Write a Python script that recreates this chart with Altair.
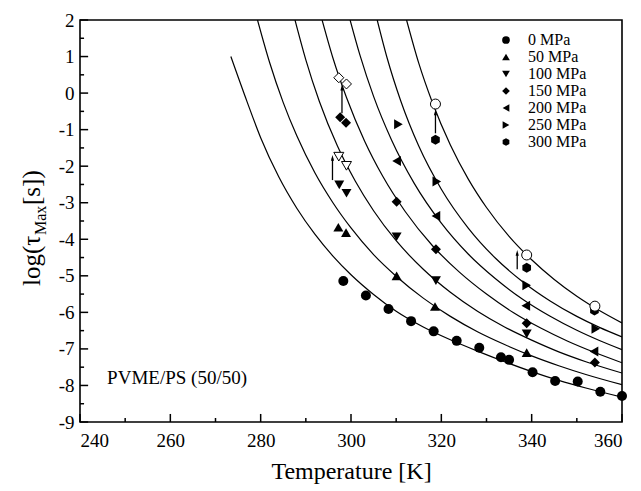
import altair as alt
import pandas as pd

SERIF = "Liberation Serif"

series = ["0 MPa", "50 MPa", "100 MPa", "150 MPa", "200 MPa", "250 MPa", "300 MPa"]
HEX = "M0,-1L0.866,-0.5L0.866,0.5L0,1L-0.866,0.5L-0.866,-0.5Z"
shapes = ["circle", "triangle-up", "triangle-down", "diamond", "triangle-left", "triangle-right", HEX]

# filled data points (T [K], log tau)
p0_T = [298.3, 303.3, 308.3, 313.3, 318.3, 323.4, 328.4, 333.2, 335.0, 340.2, 345.2, 350.2, 355.2, 360.0]
p0_L = [-5.14, -5.54, -5.91, -6.24, -6.52, -6.78, -6.97, -7.23, -7.30, -7.64, -7.88, -7.89, -8.17, -8.29]
p50_T = [297.2, 298.9, 310.1, 318.6, 338.9]
p50_L = [-3.67, -3.82, -5.00, -5.84, -7.10]
p100_T = [297.4, 299.0, 310.1, 318.8, 338.9]
p100_L = [-2.51, -2.74, -3.93, -5.13, -6.59]
p150_T = [297.6, 298.9, 310.1, 318.8, 338.9, 354.0]
p150_L = [-0.66, -0.81, -2.97, -4.27, -6.30, -7.37]
p200_T = [310.1, 318.8, 338.7, 353.8]
p200_L = [-1.86, -3.36, -5.82, -7.07]
p250_T = [310.5, 319.0, 338.9, 354.2]
p250_L = [-0.85, -2.42, -5.26, -6.45]
p300_T = [318.7, 338.9, 353.9]
p300_L = [-1.28, -4.78, -5.95]

# open (corrected) points
o150_T = [297.3, 299.0]
o150_L = [0.42, 0.25]
o100_T = [297.3, 299.0]
o100_L = [-1.74, -1.99]
o300_T = [318.7, 338.9, 354.0]
o300_L = [-0.30, -4.43, -5.83]

# arrows: T, from, to
arr_T = [298.0, 295.9, 318.7, 336.8]
arr_from = [-0.55, -2.38, -1.10, -4.82]
arr_to = [0.14, -1.78, -0.54, -4.38]

# fitted curves
c0_T = [273.4, 277, 280, 284, 288, 292, 296, 300, 305, 310, 316, 322, 328, 334, 340, 346, 352, 360]
c0_L = [1.0, -0.24, -1.22, -2.29, -3.15, -3.86, -4.46, -4.97, -5.51, -5.97, -6.40, -6.75, -7.06, -7.35, -7.62, -7.86, -8.07, -8.32]
c50_T = [279.3, 282, 285, 288, 292, 296, 300, 305, 310, 316, 322, 328, 334, 340, 346, 352, 360]
c50_L = [2.0, 0.83, -0.26, -1.17, -2.18, -3.00, -3.69, -4.42, -5.01, -5.61, -6.11, -6.53, -6.88, -7.19, -7.46, -7.70, -7.98]
c100_T = [287.6, 290, 293, 297, 301, 305, 310, 316, 322, 328, 334, 340, 346, 352, 360]
c100_L = [2.0, 0.91, -0.23, -1.45, -2.42, -3.22, -4.04, -4.82, -5.45, -5.97, -6.40, -6.76, -7.08, -7.35, -7.66]
c150_T = [293.6, 296, 299, 303, 307, 312, 318, 324, 330, 336, 342, 348, 354, 360]
c150_L = [2.0, 0.96, -0.12, -1.31, -2.27, -3.24, -4.17, -4.90, -5.50, -6.01, -6.43, -6.79, -7.10, -7.38]
c200_T = [299.8, 302, 305, 309, 314, 320, 326, 332, 338, 344, 350, 355, 360]
c200_L = [2.0, 1.03, -0.09, -1.29, -2.47, -3.56, -4.41, -5.08, -5.64, -6.10, -6.49, -6.77, -7.02]
c250_T = [305.8, 308, 311, 315, 320, 326, 332, 338, 344, 350, 355, 360]
c250_L = [2.0, 0.96, -0.21, -1.45, -2.63, -3.70, -4.52, -5.16, -5.68, -6.11, -6.41, -6.67]
c300_T = [312.3, 315, 318, 322, 326, 330, 335, 340, 345, 350, 355, 360]
c300_L = [2.0, 0.82, -0.25, -1.42, -2.36, -3.13, -3.92, -4.56, -5.10, -5.56, -5.95, -6.29]

x_labels = [240, 260, 280, 300, 320, 340, 360]
x_minor = [250, 270, 290, 310, 330, 350]
y_labels = [-9, -8, -7, -6, -5, -4, -3, -2, -1, 0, 1, 2]
y_minor = [-8.5, -7.5, -6.5, -5.5, -4.5, -3.5, -2.5, -1.5, -0.5, 0.5, 1.5]

# ---------- tables ----------
pts = []
for s, T, L in zip(series,
                   [p0_T, p50_T, p100_T, p150_T, p200_T, p250_T, p300_T],
                   [p0_L, p50_L, p100_L, p150_L, p200_L, p250_L, p300_L]):
    pts += [{"T": t, "L": l, "series": s} for t, l in zip(T, L)]
pts = pd.DataFrame(pts)

curves = []
for s, T, L in zip(series,
                   [c0_T, c50_T, c100_T, c150_T, c200_T, c250_T, c300_T],
                   [c0_L, c50_L, c100_L, c150_L, c200_L, c250_L, c300_L]):
    curves += [{"T": t, "L": l, "curve": s} for t, l in zip(T, L)]
curves = pd.DataFrame(curves)

arrows = pd.DataFrame({"T": arr_T, "L0": arr_from, "L1": arr_to})

xs = alt.Scale(domain=[240, 360], nice=False, zero=False)
ys = alt.Scale(domain=[-9, 2], nice=False, zero=False)
xa = alt.Axis(values=x_labels, title="Temperature [K]", titleFont=SERIF, titleFontSize=24,
              titleFontWeight="normal", titleColor="black", titlePadding=9,
              labelFont=SERIF, labelFontSize=19, labelPadding=9, labelColor="black",
              ticks=False, domain=False, grid=False, format="d")
ya = alt.Axis(values=y_labels, title=None, labelFont=SERIF, labelFontSize=19, labelPadding=6,
              labelColor="black", ticks=False, domain=False, grid=False,
              labelExpr="replace(datum.label, '\u2212', '-')")

X = alt.X("T:Q", scale=xs, axis=xa)
Y = alt.Y("L:Q", scale=ys, axis=ya)

lines = alt.Chart(curves).mark_line(color="black", strokeWidth=1.2, clip=True,
                                    interpolate="monotone").encode(
    x=X, y=Y, detail="curve:N", order="T:Q")

points = alt.Chart(pts).mark_point(filled=True, fill="black", stroke="black", strokeWidth=0,
                                   size=100, opacity=1).encode(
    x=X, y=Y,
    shape=alt.Shape("series:N", scale=alt.Scale(domain=series, range=shapes),
                    legend=alt.Legend(title=None, orient="none", legendX=418, legendY=12,
                                      labelFont=SERIF, labelFontSize=16, labelColor="black",
                                      symbolFillColor="black", symbolStrokeWidth=0,
                                      symbolSize=60, labelOffset=14, rowPadding=1,
                                      padding=0)))

def open_layer(T, L, shape, size=100):
    df = pd.DataFrame({"T": T, "L": L})
    return alt.Chart(df).mark_point(shape=shape, filled=False, fill="white", fillOpacity=1,
                                    stroke="black", strokeWidth=1, size=size,
                                    opacity=1).encode(x=X, y=Y)

open_d = open_layer(o150_T, o150_L, "diamond")
open_t = open_layer(o100_T, o100_L, "triangle-down")
open_c = open_layer(o300_T, o300_L, "circle")

arrow_line = alt.Chart(arrows).mark_rule(color="black", strokeWidth=1.3).encode(
    x=X, y=alt.Y("L0:Q", scale=ys, axis=ya), y2="L1:Q")
arrow_head = alt.Chart(arrows).mark_point(shape="M0,-1L0.5,0.8L-0.5,0.8Z", filled=True,
                                          fill="black", strokeWidth=0, size=40,
                                          opacity=1).encode(
    x=X, y=alt.Y("L1:Q", scale=ys, axis=ya))

# inward ticks
xt = pd.DataFrame({"T": x_labels + x_minor,
                   "y0": [-9.0] * (len(x_labels) + len(x_minor)),
                   "y1": [-8.78] * len(x_labels) + [-8.89] * len(x_minor)})
yt = pd.DataFrame({"L": y_labels + y_minor,
                   "x0": [240.0] * (len(y_labels) + len(y_minor)),
                   "x1": [241.8] * len(y_labels) + [240.9] * len(y_minor)})
xticks = alt.Chart(xt).mark_rule(color="black", strokeWidth=1.5).encode(
    x=X, y=alt.Y("y0:Q", scale=ys, axis=ya), y2="y1:Q")
yticks = alt.Chart(yt).mark_rule(color="black", strokeWidth=1.5).encode(
    y=Y, x=alt.X("x0:Q", scale=xs, axis=xa), x2="x1:Q")

label = alt.Chart(pd.DataFrame({"T": [246.0], "L": [-7.8], "t": ["PVME/PS (50/50)"]})).mark_text(
    font=SERIF, fontSize=19, align="left", baseline="middle", color="black").encode(
    x=X, y=Y, text="t:N")

def ytitle_piece(txt, px, py, size):
    return alt.Chart(pd.DataFrame({"t": [txt]})).mark_text(
        font=SERIF, fontSize=size, angle=270, align="left", baseline="alphabetic",
        color="black").encode(x=alt.value(px), y=alt.value(py), text="t:N")

yt1 = ytitle_piece("log(\u03c4", -40, 266, 25)
yt2 = ytitle_piece("Max", -34, 215, 16)
yt3 = ytitle_piece("[s])", -40, 185, 25)

chart = alt.layer(lines, points, arrow_line, arrow_head, open_d, open_t, open_c,
                  xticks, yticks, label, yt1, yt2, yt3).properties(
    width=542, height=402,
    autosize=alt.AutoSizeParams(type="none"),
    padding={"left": 80, "top": 20, "right": 19, "bottom": 69},
    background="white",
).configure_view(stroke="black", strokeWidth=1.6)

chart.save("out.html", embed_options={"renderer": "svg", "actions": False})
